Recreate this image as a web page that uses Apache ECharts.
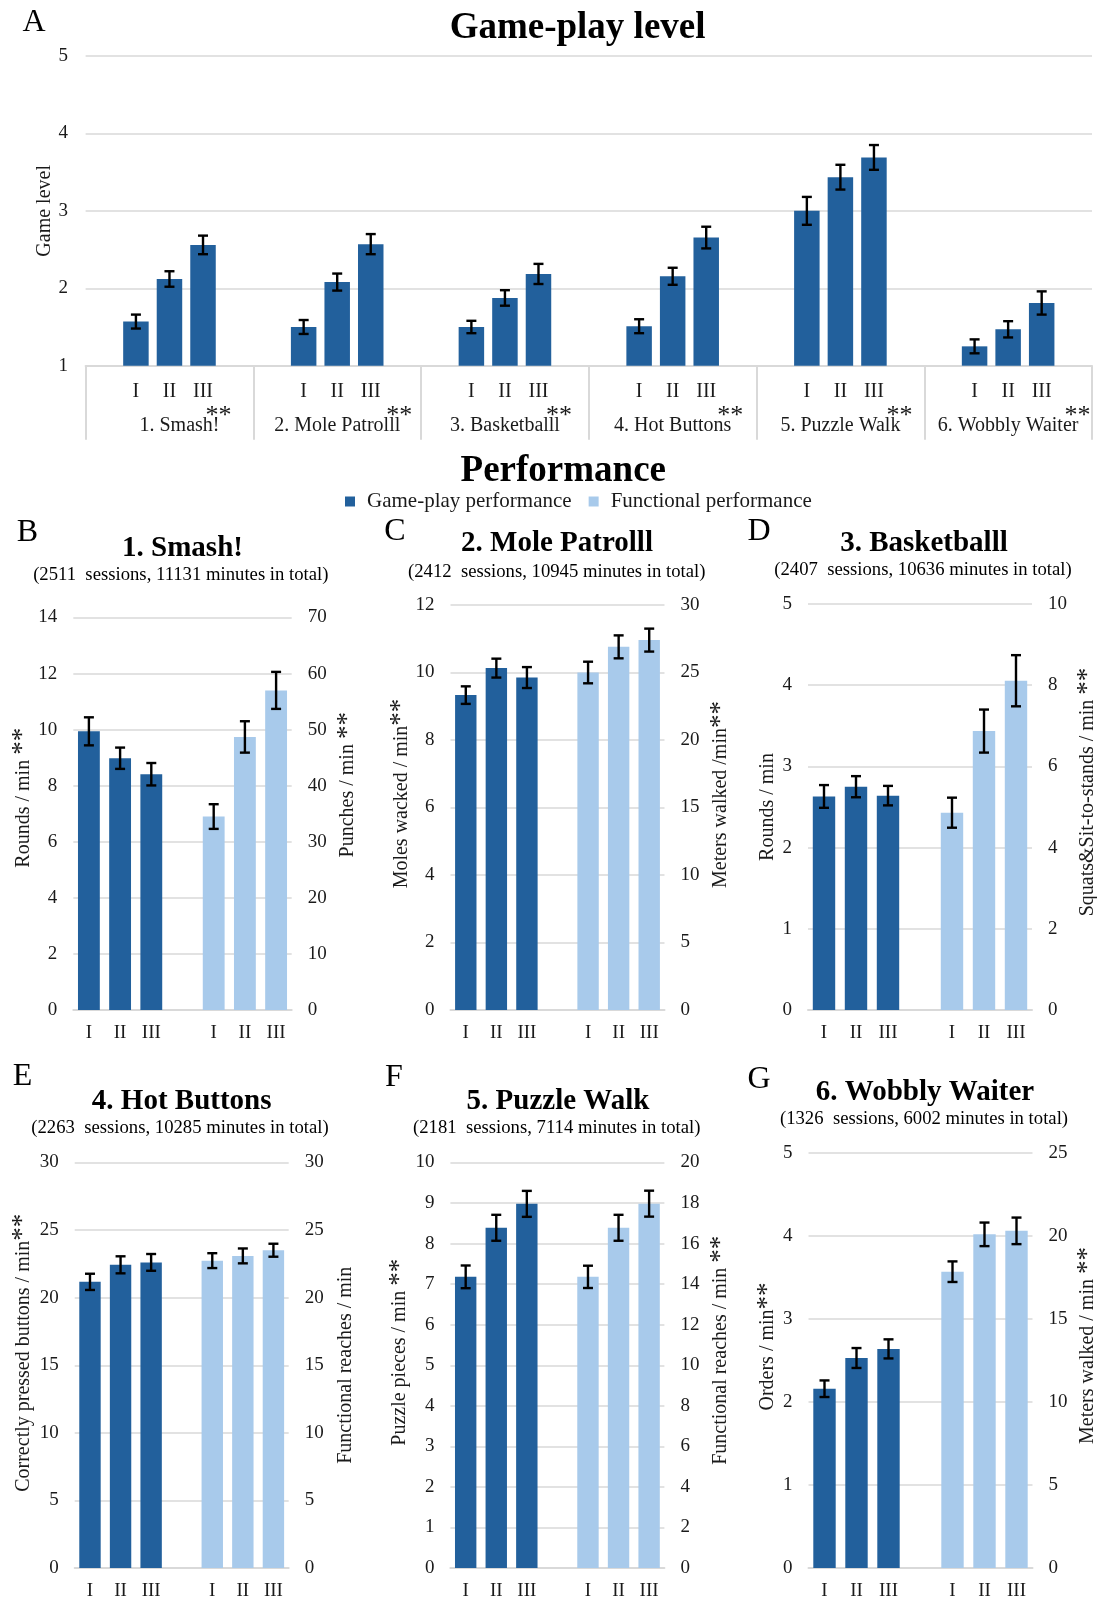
<!DOCTYPE html>
<html>
<head>
<meta charset="utf-8">
<script src="https://cdn.jsdelivr.net/npm/echarts@6/dist/echarts.min.js"></script>
<style>
  html, body { margin: 0; padding: 0; background: #fff; }
  #chart { width: 1097px; height: 1597px; }
</style>
</head>
<body>
<div id="chart"></div>
<script>
// ---------------- data ----------------
const games = ['1. Smash!', '2. Mole Patrolll', '3. Basketballl', '4. Hot Buttons', '5. Puzzle Walk', '6. Wobbly Waiter'];
const levels = ['I', 'II', 'III'];

// Game level reached per level group (mean and error)
const smashLevel = [1.57, 2.12, 2.56];
const smashLevelErr = [0.09, 0.10, 0.12];
const moleLevel = [1.50, 2.08, 2.57];
const moleLevelErr = [0.09, 0.11, 0.13];
const basketLevel = [1.50, 1.875, 2.185];
const basketLevelErr = [0.08, 0.10, 0.13];
const hotLevel = [1.51, 2.155, 2.655];
const hotLevelErr = [0.09, 0.11, 0.14];
const puzzleLevel = [3.00, 3.435, 3.69];
const puzzleLevelErr = [0.18, 0.16, 0.16];
const wobblyLevel = [1.25, 1.47, 1.81];
const wobblyLevelErr = [0.09, 0.105, 0.15];

// Performance per game: game-play measure (left axis) and functional measure (right axis)
const smashRounds = [9.94, 8.98, 8.41];
const smashRoundsErr = [0.50, 0.38, 0.40];
const smashPunches = [34.5, 48.7, 57.0];
const smashPunchesErr = [2.2, 2.8, 3.3];

const moleWhacked = [9.33, 10.13, 9.85];
const moleWhackedErr = [0.26, 0.28, 0.31];
const moleMeters = [25.0, 26.9, 27.4];
const moleMetersErr = [0.80, 0.85, 0.85];

const basketRounds = [2.63, 2.75, 2.64];
const basketRoundsErr = [0.14, 0.13, 0.12];
const basketSquats = [4.86, 6.87, 8.11];
const basketSquatsErr = [0.37, 0.53, 0.63];

const hotPressed = [21.17, 22.43, 22.61];
const hotPressedErr = [0.60, 0.63, 0.62];
const hotReaches = [22.74, 23.09, 23.51];
const hotReachesErr = [0.55, 0.55, 0.48];

const puzzlePieces = [7.18, 8.39, 8.98];
const puzzlePiecesErr = [0.28, 0.32, 0.32];
const puzzleReaches = [14.36, 16.78, 17.97];
const puzzleReachesErr = [0.55, 0.64, 0.64];

const wobblyOrders = [2.16, 2.53, 2.64];
const wobblyOrdersErr = [0.10, 0.12, 0.115];
const wobblyMeters = [17.85, 20.10, 20.31];
const wobblyMetersErr = [0.62, 0.71, 0.80];

const sessionNotes = [
  '(2511  sessions, 11131 minutes in total)',
  '(2412  sessions, 10945 minutes in total)',
  '(2407  sessions, 10636 minutes in total)',
  '(2263  sessions, 10285 minutes in total)',
  '(2181  sessions, 7114 minutes in total)',
  '(1326  sessions, 6002 minutes in total)'
];

// ---------------- styling ----------------
const SERIF = '"Liberation Serif", "Times New Roman", Times, serif';
const DARK = '#22609C';
const LIGHT = '#A8CAEB';
const GRIDLINE = '#D9D9D9';
const INK = '#1A1A1A';
const GAME_NAME = 'Game-play performance';
const FUNC_NAME = 'Functional performance';
const STAR_RICH = { s: { fontSize: 27, lineHeight: 20, fontFamily: SERIF, color: INK } };

function errorBarSeries(xi, yi, slots, means, errs) {
  return {
    type: 'custom',
    silent: true,
    z: 5,
    xAxisIndex: xi,
    yAxisIndex: yi,
    encode: { x: 0, y: 1 },
    data: slots.map((s, k) => [s, means[k], errs[k]]),
    renderItem(params, api) {
      const x = api.value(0), m = api.value(1), e = api.value(2);
      const top = api.coord([x, m + e]);
      const bot = api.coord([x, m - e]);
      const cx = top[0], hw = 5;
      const st = { stroke: '#000', lineWidth: 2.4 };
      return {
        type: 'group',
        children: [
          { type: 'line', shape: { x1: cx, y1: top[1], x2: cx, y2: bot[1] }, style: st },
          { type: 'line', shape: { x1: cx - hw, y1: top[1], x2: cx + hw, y2: top[1] }, style: st },
          { type: 'line', shape: { x1: cx - hw, y1: bot[1], x2: cx + hw, y2: bot[1] }, style: st }
        ]
      };
    }
  };
}

function textEl(text, x, y, font) {
  return {
    type: 'text', x: x, y: y, silent: true,
    style: { text: text, font: font, fill: '#000', align: 'center', verticalAlign: 'middle',
             textAlign: 'center', textVerticalAlign: 'middle' }
  };
}

// axis titles: a trailing "**" is drawn with the larger star style
function starName(name) {
  return name.replace(/\*\*$/, '{s|**}');
}

const grids = [];
const xAxes = [];
const yAxes = [];
const series = [];
const graphics = [];

// ---------------- A: game-play level ----------------
graphics.push(textEl('A', 34, 23, '32px ' + SERIF));
graphics.push(textEl('Game-play level', 577.6, 28, 'bold 37px ' + SERIF));

grids.push({ left: 85.6, top: 56, width: 1006.4, height: 309.7, containLabel: false, outerBoundsMode: 'none' });

// five slots per game: gap, I, II, III, gap
const slotCats = [];
games.forEach(() => { slotCats.push('', levels[0], levels[1], levels[2], ''); });
const levelMeans = [smashLevel, moleLevel, basketLevel, hotLevel, puzzleLevel, wobblyLevel];
const levelErrs = [smashLevelErr, moleLevelErr, basketLevelErr, hotLevelErr, puzzleLevelErr, wobblyLevelErr];
const slotValues = slotCats.map(() => '-');
const levelErrData = { slots: [], means: [], errs: [] };
levelMeans.forEach((arr, g) => arr.forEach((v, k) => {
  const s = g * 5 + 1 + k;
  slotValues[s] = v;
  levelErrData.slots.push(s);
  levelErrData.means.push(v);
  levelErrData.errs.push(levelErrs[g][k]);
}));

xAxes.push({
  gridIndex: 0, type: 'category', position: 'bottom', data: slotCats,
  axisLine: { show: false, onZero: false }, axisTick: { show: false },
  axisLabel: { interval: 0, margin: 16, fontSize: 20, fontFamily: SERIF, color: INK }
});
xAxes.push({
  gridIndex: 0, type: 'category', position: 'bottom', data: games,
  axisLine: { show: true, onZero: false, lineStyle: { color: GRIDLINE, width: 2 } },
  axisTick: { show: true, interval: 0, length: 74, lineStyle: { color: GRIDLINE, width: 2 } },
  axisLabel: {
    interval: 0, margin: 46.4, color: INK,
    formatter: (v, i) => '{s|**}\n{' + (i === 0 ? 'n0' : 'n') + '|' + v + '}',
    rich: {
      s: { fontSize: 26, lineHeight: 8.6, align: 'right', fontFamily: SERIF, color: INK },
      n: { fontSize: 20, lineHeight: 10, fontFamily: SERIF, color: INK, padding: [0, 12, 0, 12] },
      n0: { fontSize: 20, lineHeight: 10, fontFamily: SERIF, color: INK, padding: [0, 12, 0, 32] }
    }
  }
});
yAxes.push({
  gridIndex: 0, type: 'value', position: 'left', min: 1, max: 5, interval: 1,
  axisLine: { show: false }, axisTick: { show: false },
  splitLine: { lineStyle: { color: GRIDLINE, width: 1.5 } },
  axisLabel: { margin: 17.5, fontSize: 19, fontFamily: SERIF, color: INK },
  name: 'Game level', nameLocation: 'middle', nameRotate: 90, nameGap: 30.8, nameMoveOverlap: false,
  nameTextStyle: { fontSize: 20, lineHeight: 20, fontFamily: SERIF, color: INK }
});
series.push({
  type: 'bar', name: 'Game level', xAxisIndex: 0, yAxisIndex: 0,
  data: slotValues, barCategoryGap: '24%', clip: true,
  itemStyle: { color: DARK }
});
series.push(errorBarSeries(0, 0, levelErrData.slots, levelErrData.means, levelErrData.errs));

// ---------------- B-G: performance ----------------
graphics.push(textEl('Performance', 563.3, 471.5, 'bold 37px ' + SERIF));

const panelSpecs = [
  { letter: 'B', game: smashRounds, gameErr: smashRoundsErr, func: smashPunches, funcErr: smashPunchesErr,
    leftName: 'Rounds / min **', rightName: 'Punches / min **', leftMax: 14, leftStep: 2, rightMax: 70, rightStep: 10 },
  { letter: 'C', game: moleWhacked, gameErr: moleWhackedErr, func: moleMeters, funcErr: moleMetersErr,
    leftName: 'Moles wacked / min**', rightName: 'Meters walked /min**', leftMax: 12, leftStep: 2, rightMax: 30, rightStep: 5 },
  { letter: 'D', game: basketRounds, gameErr: basketRoundsErr, func: basketSquats, funcErr: basketSquatsErr,
    leftName: 'Rounds / min', rightName: 'Squats&Sit-to-stands / min **', leftMax: 5, leftStep: 1, rightMax: 10, rightStep: 2 },
  { letter: 'E', game: hotPressed, gameErr: hotPressedErr, func: hotReaches, funcErr: hotReachesErr,
    leftName: 'Correctly pressed buttons / min**', rightName: 'Functional reaches / min', leftMax: 30, leftStep: 5, rightMax: 30, rightStep: 5 },
  { letter: 'F', game: puzzlePieces, gameErr: puzzlePiecesErr, func: puzzleReaches, funcErr: puzzleReachesErr,
    leftName: 'Puzzle pieces / min **', rightName: 'Functional reaches / min **', leftMax: 10, leftStep: 1, rightMax: 20, rightStep: 2 },
  { letter: 'G', game: wobblyOrders, gameErr: wobblyOrdersErr, func: wobblyMeters, funcErr: wobblyMetersErr,
    leftName: 'Orders / min**', rightName: 'Meters walked / min **', leftMax: 5, leftStep: 1, rightMax: 25, rightStep: 5 }
];

const panelLayout = [
  { grid: [73.3, 617.5, 218.4, 392.5], letter: [27.5, 533], title: [182.5, 548.5], sub: [180.8, 575], leftGap: 39.9, rightGap: 46.2, leftShift: 16, rightShift: 29 },
  { grid: [450.5, 605, 214, 405], letter: [395, 532], title: [557, 544], sub: [556.7, 571.6], leftGap: 39.2, rightGap: 46.4, leftShift: 14, rightShift: 13 },
  { grid: [808, 604, 224, 406], letter: [759, 532], title: [924, 543.6], sub: [923, 570], leftGap: 30, rightGap: 45.6, leftShift: 0, rightShift: 15 },
  { grid: [74.7, 1162.5, 214, 405.5], letter: [22.5, 1077], title: [181.7, 1101.6], sub: [180, 1128], leftGap: 41.3, rightGap: 46.8, leftShift: 12.5, rightShift: 0 },
  { grid: [450.4, 1162.5, 214, 405.5], letter: [394, 1078], title: [558, 1101.6], sub: [556.7, 1128], leftGap: 40.8, rightGap: 46.5, leftShift: 13, rightShift: 15 },
  { grid: [808.5, 1153, 224, 415], letter: [759, 1080], title: [925, 1092.2], sub: [924, 1119], leftGap: 30.5, rightGap: 45.1, leftShift: 14, rightShift: 15 }
];

const panelCats = [levels[0], levels[1], levels[2], '', levels[0], levels[1], levels[2]];

panelSpecs.forEach((p, i) => {
  const L = panelLayout[i];
  const gi = grids.length;
  grids.push({ left: L.grid[0], top: L.grid[1], width: L.grid[2], height: L.grid[3], containLabel: false, outerBoundsMode: 'none' });

  graphics.push(textEl(p.letter, L.letter[0], L.letter[1], '32px ' + SERIF));
  graphics.push(textEl(games[i], L.title[0], L.title[1], 'bold 29px ' + SERIF));
  graphics.push(textEl(sessionNotes[i], L.sub[0], L.sub[1], '18.7px ' + SERIF));

  const xi = xAxes.length;
  xAxes.push({
    gridIndex: gi, type: 'category', position: 'bottom', data: panelCats,
    axisLine: { show: true, onZero: false, lineStyle: { color: GRIDLINE, width: 2 } },
    axisTick: { show: false },
    axisLabel: { interval: 0, margin: 14, fontSize: 19, fontFamily: SERIF, color: INK }
  });

  const yl = yAxes.length;
  yAxes.push({
    gridIndex: gi, type: 'value', position: 'left', min: 0, max: p.leftMax, interval: p.leftStep,
    axisLine: { show: false }, axisTick: { show: false },
    splitLine: { lineStyle: { color: GRIDLINE, width: 1.5 } },
    axisLabel: { margin: 16, fontSize: 19, fontFamily: SERIF, color: INK },
    name: starName(p.leftName), nameLocation: 'middle', nameRotate: 90, nameGap: L.leftGap, nameMoveOverlap: false,
    nameTextStyle: { fontSize: 20, lineHeight: 20, fontFamily: SERIF, color: INK, padding: [0, 0, 0, 2 * L.leftShift], rich: STAR_RICH }
  });
  const yr = yAxes.length;
  yAxes.push({
    gridIndex: gi, type: 'value', position: 'right', min: 0, max: p.rightMax, interval: p.rightStep,
    axisLine: { show: false }, axisTick: { show: false },
    splitLine: { show: false },
    axisLabel: { margin: 16, fontSize: 19, fontFamily: SERIF, color: INK },
    name: starName(p.rightName), nameLocation: 'middle', nameRotate: 90, nameGap: L.rightGap, nameMoveOverlap: false,
    nameTextStyle: { fontSize: 20, lineHeight: 20, fontFamily: SERIF, color: INK, padding: [0, 0, 0, 2 * L.rightShift], rich: STAR_RICH }
  });

  series.push({
    type: 'bar', name: GAME_NAME, xAxisIndex: xi, yAxisIndex: yl,
    data: [p.game[0], p.game[1], p.game[2], '-', '-', '-', '-'],
    barGap: '-100%', barCategoryGap: '30%', itemStyle: { color: DARK }
  });
  series.push({
    type: 'bar', name: FUNC_NAME, xAxisIndex: xi, yAxisIndex: yr,
    data: ['-', '-', '-', '-', p.func[0], p.func[1], p.func[2]],
    barGap: '-100%', barCategoryGap: '30%', itemStyle: { color: LIGHT }
  });
  series.push(errorBarSeries(xi, yl, [0, 1, 2], p.game, p.gameErr));
  series.push(errorBarSeries(xi, yr, [4, 5, 6], p.func, p.funcErr));
});

const chart = echarts.init(document.getElementById('chart'), null, { renderer: 'canvas' });
chart.setOption({
  animation: false,
  backgroundColor: '#fff',
  textStyle: { fontFamily: SERIF },
  legend: {
    data: [{ name: GAME_NAME, icon: 'rect' }, { name: FUNC_NAME, icon: 'rect' }],
    left: 345, top: 491, padding: 0, itemWidth: 10, itemHeight: 10, itemGap: 17,
    selectedMode: false,
    textStyle: { fontSize: 21, fontFamily: SERIF, color: INK, padding: [0, 0, 0, 7] }
  },
  grid: grids,
  xAxis: xAxes,
  yAxis: yAxes,
  series: series,
  graphic: graphics
});
</script>
</body>
</html>
